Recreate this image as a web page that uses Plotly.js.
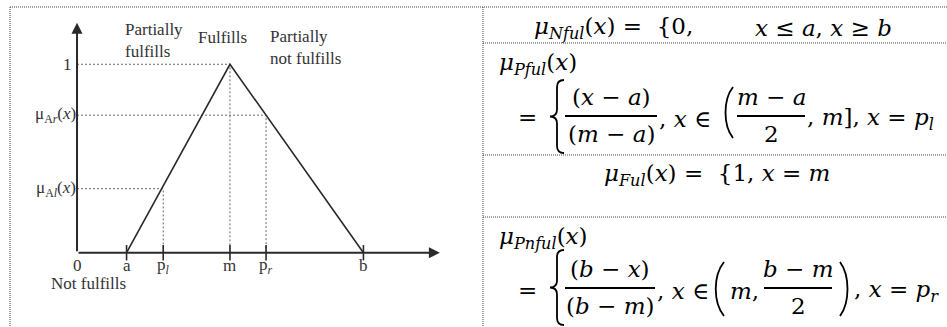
<!DOCTYPE html>
<html><head><meta charset="utf-8">
<script src="https://cdn.plot.ly/plotly-3.0.1.min.js"></script>
<style>html,body{margin:0;padding:0;background:#fff}</style>
</head><body><div id="chart" style="width:947px;height:327px"></div>
<script>
// ---- data ----
const tickLabels = ['0', 'a', 'p<sub><i>l</i></sub>', 'm', 'p<sub><i>r</i></sub>', 'b'];
const tickX      = [0, 1.73, 3.01, 5.34, 6.60, 10.0];
const triX = [1.73, 5.34, 10.0];       // a, m, b
const triY = [0, 1, 0];
const levelLabels = ['1', 'μ<sub>A<i>r</i></sub>(<i>x</i>)', 'μ<sub>A<i>l</i></sub>(<i>x</i>)'];
const levelY = [1, 0.73, 0.34];
const levelX = [5.34, 6.60, 3.01];     // m, p_r, p_l
const regionLabels = ['Partially<br>fulfills', 'Fulfills', 'Partially<br>not fulfills', 'Not fulfills'];

// ---- helpers ----
const W = 947, H = 327;
const DFAM = 'Liberation Serif';
const EFAM = 'DejaVu Serif';
function dfont() { return {family: DFAM, size: 17, color: '#333'}; }
function efont() { return {family: EFAM, size: 23, color: '#000'}; }

const traces = [];
for (let i = 0; i < levelY.length; i++) {
  traces.push({x: [0, levelX[i], levelX[i]], y: [levelY[i], levelY[i], 0], mode: 'lines',
    line: {color: '#666', width: 1, dash: '2px,2px'}, hoverinfo: 'skip', showlegend: false});
}
traces.push({x: triX, y: triY, mode: 'lines', line: {color: '#2a2a2a', width: 1.6}, showlegend: false, hoverinfo: 'skip'});
traces.push({x: tickX.slice(1), y: tickX.slice(1).map(() => 0), mode: 'markers',
  marker: {symbol: 'line-ns', size: 11, line: {width: 1.6, color: '#2a2a2a'}}, showlegend: false, hoverinfo: 'skip'});
// empty trace holding the table's pixel-space subplot
traces.push({x: [], y: [], xaxis: 'x2', yaxis: 'y2', mode: 'lines', showlegend: false, hoverinfo: 'skip'});

const ann = [];
ann.push({x: 12.67, y: 0, ax: 0, ay: 0, axref: 'x', ayref: 'y', xref: 'x', yref: 'y', text: '', showarrow: true,
  arrowhead: 2, arrowsize: 1.1, arrowwidth: 2, arrowcolor: '#2a2a2a'});
ann.push({x: 0, y: 1.22, ax: 0, ay: 0, axref: 'x', ayref: 'y', xref: 'x', yref: 'y', text: '', showarrow: true,
  arrowhead: 2, arrowsize: 1.1, arrowwidth: 2, arrowcolor: '#2a2a2a'});
tickLabels.forEach((t, i) => ann.push({x: tickX[i], y: 0, xref: 'x', yref: 'y', text: t, showarrow: false,
  xanchor: 'center', yanchor: 'middle', yshift: -13, font: dfont()}));
levelLabels.forEach((t, i) => ann.push({x: 0, y: levelY[i], xref: 'x', yref: 'y', text: t, showarrow: false,
  xanchor: 'right', yanchor: 'middle', xshift: i === 0 ? -3 : 1, font: dfont()}));
ann.push({x: 1.61, y: 1.124, xref: 'x', yref: 'y', text: regionLabels[0], align: 'left', showarrow: false, xanchor: 'left', yanchor: 'middle', font: dfont()});
ann.push({x: 5.08, y: 1.14, xref: 'x', yref: 'y', text: regionLabels[1], showarrow: false, xanchor: 'center', yanchor: 'middle', font: dfont()});
ann.push({x: 6.67, y: 1.087, xref: 'x', yref: 'y', text: regionLabels[2], align: 'left', showarrow: false, xanchor: 'left', yanchor: 'middle', font: dfont()});
ann.push({x: 0.40, y: -0.162, xref: 'x', yref: 'y', text: regionLabels[3], showarrow: false, xanchor: 'center', yanchor: 'middle', font: dfont()});

// table content lives on a pixel-space subplot (x2/y2)
function eq(text, x, y, anchor) {
  ann.push({x: x, y: y, xref: 'x2', yref: 'y2', text: text, showarrow: false,
    xanchor: anchor || 'left', yanchor: 'middle', font: efont()});
}
const shapes = [];
function hline(x0, x1, y, w) {
  shapes.push({type: 'line', xref: 'x2', yref: 'y2', x0: x0, x1: x1, y0: y, y1: y,
    line: {color: '#000', width: w || 2}});
}
function frac(num, den, x0, x1, yBar) {
  hline(x0, x1, yBar, 2);
  eq(num, (x0 + x1) / 2, yBar - 19, 'center');
  eq(den, (x0 + x1) / 2, yBar + 18, 'center');
}
function P(x, y) { return x.toFixed(2) + ',' + y.toFixed(2); }
function brace(xl, xr, y0, y1) {
  const xs = (xl + xr) / 2, ym = (y0 + y1) / 2, r = 7;
  const d = 'M' + P(xr, y0) + ' Q' + P(xs, y0) + ' ' + P(xs, y0 + r) + ' L' + P(xs, ym - r) +
    ' Q' + P(xs, ym) + ' ' + P(xl, ym) + ' Q' + P(xs, ym) + ' ' + P(xs, ym + r) +
    ' L' + P(xs, y1 - r) + ' Q' + P(xs, y1) + ' ' + P(xr, y1);
  shapes.push({type: 'path', xref: 'x2', yref: 'y2', path: d, line: {color: '#000', width: 1.8}});
}
function paren(xOuter, xInner, y0, y1) {
  const d = 'M' + P(xInner, y0) + ' C' + P(xOuter, y0 + (y1 - y0) * 0.25) + ' ' + P(xOuter, y0 + (y1 - y0) * 0.75) + ' ' + P(xInner, y1);
  shapes.push({type: 'path', xref: 'x2', yref: 'y2', path: d, line: {color: '#000', width: 1.8}});
}
function dotted(x0, y0, x1, y1) {
  shapes.push({type: 'line', xref: 'x2', yref: 'y2', x0: x0, y0: y0, x1: x1, y1: y1,
    line: {color: '#444', width: 1, dash: '1px,1px'}});
}

dotted(10, 7, 947, 7);
dotted(10, 7, 10, 327);
dotted(483, 7, 483, 327);
dotted(483, 43, 947, 43);
dotted(483, 155, 947, 155);
dotted(483, 217, 947, 217);

// row 1
eq('<i>μ<sub>Nful</sub></i>(<i>x</i>) =  {0,', 532, 28);
eq('<i>x</i> ≤ <i>a</i>, <i>x</i> ≥ <i>b</i>', 753, 28);
// row 2
eq('<i>μ<sub>Pful</sub></i>(<i>x</i>)', 497, 64);
eq('=', 516, 117);
brace(550, 564, 80, 153);
frac('(<i>x</i> − <i>a</i>)', '(<i>m</i> − <i>a</i>)', 565, 657, 116);
eq(', <i>x</i> ∈', 657, 119);
paren(723, 733, 87, 138);
frac('<i>m</i> − <i>a</i>', '2', 737, 805, 116);
eq(', <i>m</i>], <i>x</i> = <i>p<sub>l</sub></i>', 805, 119);
// row 3
eq('<i>μ<sub>Ful</sub></i>(<i>x</i>) =  {1, <i>x</i> = <i>m</i>', 717, 175, 'center');
// row 4
eq('<i>μ<sub>Pnful</sub></i>(<i>x</i>)', 497, 238);
eq('=', 516, 290);
brace(550, 564, 250, 325);
frac('(<i>b</i> − <i>x</i>)', '(<i>b</i> − <i>m</i>)', 565, 655, 288);
eq(', <i>x</i> ∈', 655, 291);
paren(713, 724, 262, 316);
eq('<i>m</i>,', 728, 291);
frac('<i>b</i> − <i>m</i>', '2', 764, 832, 288);
paren(850, 840, 262, 316);
eq(', <i>x</i> = <i>p<sub>r</sub></i>', 852, 291);

const layout = {
  width: W, height: H, margin: {l: 0, r: 0, t: 0, b: 0},
  font: {family: DFAM},
  paper_bgcolor: '#fff', plot_bgcolor: 'rgba(0,0,0,0)', showlegend: false,
  xaxis: {domain: [10 / W, 482 / W], range: [-2.34, 14.14], visible: false, fixedrange: true},
  yaxis: {domain: [0, 1], range: [-0.394, 1.341], visible: false, fixedrange: true},
  xaxis2: {domain: [0, 1], range: [0, W], anchor: 'y2', visible: false, fixedrange: true},
  yaxis2: {domain: [0, 1], range: [H, 0], anchor: 'x2', visible: false, fixedrange: true},
  annotations: ann, shapes: shapes
};
Plotly.newPlot('chart', traces, layout, {staticPlot: true, displayModeBar: false});
</script></body></html>
